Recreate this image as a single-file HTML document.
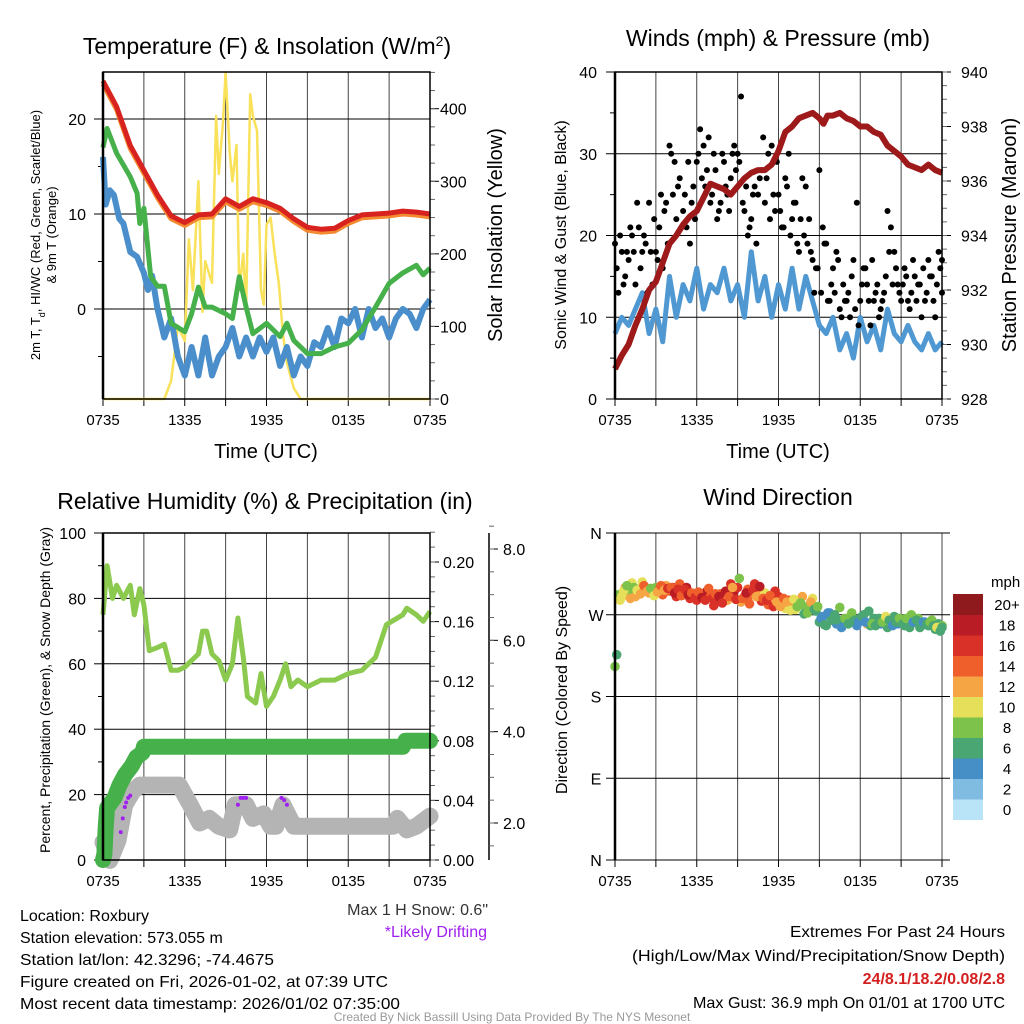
<!DOCTYPE html>
<html><head><meta charset="utf-8">
<style>
html,body{margin:0;padding:0;background:#fff;}
svg{display:block;font-family:"Liberation Sans",sans-serif;}
.n{font-family:"Liberation Sans Narrow","Liberation Sans",sans-serif;}
</style></head>
<body>
<svg id="fig" width="1024" height="1024" viewBox="0 0 1024 1024" xmlns="http://www.w3.org/2000/svg">
<rect width="1024" height="1024" fill="#fff"/>
<g id="layer"></g>
<text x="267" y="54" font-size="23" text-anchor="middle">Temperature (F) &amp; Insolation (W/m<tspan baseline-shift="super" font-size="14">2</tspan>)</text>
<text x="778" y="46" font-size="23" text-anchor="middle">Winds (mph) &amp; Pressure (mb)</text>
<text x="265" y="509" font-size="23" text-anchor="middle">Relative Humidity (%) &amp; Precipitation (in)</text>
<text x="778" y="505" font-size="23" text-anchor="middle">Wind Direction</text>

<text x="266" y="458" font-size="20" text-anchor="middle">Time (UTC)</text>
<text x="778" y="458" font-size="20" text-anchor="middle">Time (UTC)</text>

<text transform="translate(40,235) rotate(-90)" font-size="13" text-anchor="middle">2m T, T<tspan baseline-shift="sub" font-size="9">d</tspan>, HI/WC (Red, Green, Scarlet/Blue)</text>
<text transform="translate(56,235) rotate(-90)" font-size="13" text-anchor="middle">&amp; 9m T (Orange)</text>
<text transform="translate(502,235) rotate(-90)" font-size="20" text-anchor="middle">Solar Insolation (Yellow)</text>
<text transform="translate(566,235) rotate(-90)" font-size="16" text-anchor="middle">Sonic Wind &amp; Gust (Blue, Black)</text>
<text transform="translate(1016,235) rotate(-90)" font-size="20" text-anchor="middle">Station Pressure (Maroon)</text>
<text transform="translate(50,690) rotate(-90)" font-size="14" text-anchor="middle">Percent, Precipitation (Green), &amp; Snow Depth (Gray)</text>
<text transform="translate(567,690) rotate(-90)" font-size="16" text-anchor="middle">Direction (Colored By Speed)</text>

<g class="n" font-size="16">
<text x="488" y="915" text-anchor="end" fill="#333">Max 1 H Snow: 0.6"</text>
<text x="487" y="937" text-anchor="end" fill="#a020f0">*Likely Drifting</text>
<text x="20" y="921">Location: Roxbury</text>
<text x="20" y="943">Station elevation: 573.055 m</text>
<text x="20" y="965" textLength="254" lengthAdjust="spacingAndGlyphs">Station lat/lon: 42.3296; -74.4675</text>
<text x="20" y="987" textLength="368" lengthAdjust="spacingAndGlyphs">Figure created on Fri, 2026-01-02, at 07:39 UTC</text>
<text x="20" y="1009" textLength="380" lengthAdjust="spacingAndGlyphs">Most recent data timestamp: 2026/01/02 07:35:00</text>
<text x="1005" y="937" text-anchor="end" textLength="215" lengthAdjust="spacingAndGlyphs">Extremes For Past 24 Hours</text>
<text x="1005" y="961" text-anchor="end" textLength="373" lengthAdjust="spacingAndGlyphs">(High/Low/Max Wind/Precipitation/Snow Depth)</text>
<text x="1005" y="984" text-anchor="end" fill="#d42020" font-weight="bold">24/8.1/18.2/0.08/2.8</text>
<text x="1005" y="1008" text-anchor="end" textLength="312" lengthAdjust="spacingAndGlyphs">Max Gust: 36.9 mph On 01/01 at 1700 UTC</text>
<text x="512" y="1021" text-anchor="middle" font-size="12" fill="#999">Created By Nick Bassill Using Data Provided By The NYS Mesonet</text>
</g>
</svg>
<script>
// ---------- data ----------
const xTickLabels = ["0735","1335","1935","0135","0735"];
const tempLeftTicks = [0,10,20];
const insolTicks = [0,100,200,300,400];
const windTicks = [0,10,20,30,40];
const presTicks = [928,930,932,934,936,938,940];
const rhTicks = [0,20,40,60,80,100];
const precipTicks = [0.00,0.04,0.08,0.12,0.16,0.20];
const snowTicks = [2.0,4.0,6.0,8.0];
const dirLabels = ["N","E","S","W","N"];
const dirTickVals = [0,90,180,270,360];
const speedLegendLabels = ["0","2","4","6","8","10","12","14","16","18","20+"];
const speedColors = ["#b9e3f7","#80bbe2","#468ec6","#4aa672","#7cc24b","#e6df5a","#f6a545","#ef5f2c","#d93128","#b91c24","#8f1a1d"];

const tempT = [0,1,2,3,4,5,6,7,8,9,10,11,12,13,14,15,16,17,18,19,20,21,22,23,24];
const tempV = [24,21.3,17.2,14.6,12,9.8,9.1,9.9,10,11.6,10.8,11.6,11.2,10.6,9.5,8.6,8.4,8.5,9.3,9.9,10,10.1,10.3,10.2,10];
const dewT = [0,0.3,1,2,2.5,2.7,3,3.5,4,4.5,5,6,6.5,7,7.5,8,9,9.5,10,10.5,11,12,13,13.5,14,15,16,17,18,19,20,21,22,23,23.5,24];
const dewV = [17,19,16.4,13.9,12.2,9,10.6,3.4,2.4,2.4,-1.5,-2.4,-0.5,2.3,0.2,0.2,-0.5,-1,3.4,0.2,-2.6,-1.5,-2.9,-1.5,-3.3,-4.7,-4.7,-4,-3.6,-2.2,0.2,2.7,3.8,4.6,3.6,4.3];
const wcT = [0,0.2,0.5,0.8,1.2,1.5,2,2.5,3,3.3,3.6,4,4.5,5,5.5,6,6.5,7,7.5,8,8.5,9,9.5,10,10.5,11,11.5,12,12.5,13,13.5,14,14.5,15,15.5,16,16.5,17,17.5,18,18.5,19,19.5,20,20.5,21,21.5,22,22.5,23,23.5,24];
const wcV = [16,11,12.5,12,9.5,9,6,5.5,3.8,2,3.5,0,-3,-1,-5,-7,-4,-7,-3,-7,-5,-4,-2,-5,-3,-5,-3,-4.5,-3,-6,-4,-7,-5,-6,-3.5,-4,-2,-4,-1,-1.5,0,-3,0,-2,-1,-3,-1,0,-0.5,-2,0,1];
const solT = [0,4.5,5,5.5,6,6.3,6.6,7,7.3,7.5,8,8.3,8.5,8.8,9,9.3,9.5,9.8,10,10.3,10.5,10.8,11,11.3,11.6,11.8,12,12.3,12.6,12.9,13.2,13.5,14,14.5,24];
const solV = [0,0,25,100,80,220,150,300,120,190,160,390,310,380,450,340,300,350,150,200,120,420,390,370,150,130,240,250,200,160,90,50,15,0,0];
const presT = [0,0.5,1,1.5,2,2.5,3,3.5,4,4.5,5,5.5,6,6.5,7,7.5,8,8.5,9,9.5,10,10.5,11,11.5,12,12.5,13,13.5,14,14.5,15,15.3,15.6,16,16.5,17,17.5,18,18.5,19,19.5,20,20.5,21,21.5,22,22.5,23,23.5,24];
const presV = [929.1,929.6,930.0,930.7,931.3,932.0,932.3,933.0,933.7,934.0,934.4,934.7,934.9,935.4,935.9,935.8,935.7,935.5,935.8,936.1,936.3,936.4,936.4,936.6,937.1,937.8,938.0,938.3,938.4,938.5,938.3,938.1,938.4,938.4,938.5,938.3,938.2,938.0,938.0,937.8,937.7,937.3,937.1,936.9,936.6,936.5,936.4,936.6,936.4,936.3];
const windV = [8,10,9,11,13,8,11,7,15,10,14,12,16,11,14,13,16,12,14,10,18,12,15,10,14,11,16,11,15,12,9,8,10,6,8,5,10,7,9,6,11,8,7,9,7,6,8,6,7];
const gustV = [19,13,18,15,17,20,14,21,18,19,24,14,18,21,16,24,31,25,22,27,23,21,19,26,29,33,31,28,24,30,22,24,29,25,27,31,30,37,23,20,22,26,25,28,24,30,31,23,25,21,27,30,22,24,18,27,26,22,17,16,28,21,19,12,16,18,11,14,12,10,17,24,12,16,14,9,12,14,11,13,23,21,18,14,12,16,12,13,15,14,10,12,17,15,10,18,13];
const gustV2 = [16,20,14,18,21,18,24,16,20,13,18,22,17,25,23,19,30,29,26,21,25,29,24,22,30,27,26,32,25,28,23,30,26,23,30,28,29,24,26,21,25,19,27,32,27,22,25,29,23,21,26,20,24,19,22,20,19,18,13,16,13,19,12,14,13,17,10,12,13,15,11,9,14,16,12,17,13,10,12,15,18,14,16,13,14,15,11,17,12,14,16,13,15,12,14,16,17];
const rhT = [0,0.3,0.7,1,1.5,2,2.3,2.7,3,3.4,4,4.5,5,5.5,6,6.5,7,7.3,7.6,8,8.5,9,9.5,9.9,10.3,10.6,11.2,11.6,12,12.5,13,13.4,13.8,14.3,15,16,17,18,19,20,20.8,22,22.3,23,23.5,24];
const rhV = [75,90,80,84,80,84,75,83,78,64,65,66,58,58,59,61,63,70,70,63,61,55,60,74,62,50,48,57,47,50,55,60,53,55,53,55,55,57,58,62,72,75,77,75,73,76];
const precipT = [0,0.1,0.2,0.3,0.86,1.2,1.6,2.1,2.45,2.9,3.0,22,22.2,24];
const precipV = [0,0.004,0.022,0.035,0.042,0.05,0.057,0.063,0.069,0.072,0.076,0.076,0.08,0.08];
const snowT = [0,0.5,1.1,1.6,2.2,2.7,5.6,6.4,7.1,7.8,8.5,9.3,9.7,10.5,11,11.8,12.3,12.7,13.2,14,21.3,21.6,22.3,23,24];
const snowV = [1.58,1.18,1.62,2.4,2.7,2.83,2.83,2.4,2.0,2.1,1.93,1.85,2.4,2.4,2.1,2.2,1.93,1.93,2.4,1.93,1.93,2.1,1.85,1.93,2.15];
const driftT = [1.3,1.45,1.6,1.7,1.85,2.0,9.9,10.1,10.3,10.5,13.1,13.3,13.5];
const driftV = [1.8,2.1,2.35,2.45,2.55,2.6,2.4,2.55,2.55,2.55,2.55,2.5,2.4];
const dirV = [213,292,290,300, 296,305,290,298, 306,300,294,296, 300,298,292,302, 296,300,290,304, 295,300,288,292, 286,292,290,296, 290,280,285,293, 292,286,304,296, 300,284,290,298, 292,304,298,285, 294,281,289,296, 290,283,277,286, 281,276,284,290, 278,280,288,274, 262,268,258,272, 266,260,278,264, 262,268,266,258, 264,270,260,258, 266,262,260,264, 256,262,268,260, 264,258,262,270, 262,266,258,262, 258,264,254,260, 258];
const speedV = [8,9,10,12, 9,11,13,12, 11,12,13,10, 9,14,15,13, 15,17,16,14, 15,18,16,13, 17,16,15,18, 14,16,17,15, 17,13,16,18, 16,12,17,15, 14,17,12,16, 10,15,13,17, 16,14,11,15, 12,10,8,13, 9,8,11,7, 7,5,6,4, 6,5,8,7, 6,10,7,5, 8,6,12,7, 6,7,5,8, 6,9,7,5, 6,7,5,8, 6,9,7,5, 6,8,7,6, 9];
const dirV2 = [226,286,296,302, 288,300,297,293, 302,296,299,291, 295,302,297,299, 300,294,298,291, 298,292,294,289, 295,289,286,299, 288,293,290,283, 296,290,300,287, 310,288,294,282, 297,290,301,288, 286,291,279,284, 279,288,284,275, 287,279,283,271, 272,284,276,279, 266,259,272,264, 270,264,256,266, 260,272,264,262, 268,262,274,260, 258,266,262,268, 264,258,262,266, 260,266,256,262, 264,256,262,260, 262,258,256,252, 256];
const speedV2 = [7,10,11,9, 12,8,10,13, 14,12,9,11, 13,15,12,16, 14,18,17,15, 16,19,14,17, 15,18,16,14, 17,15,19,16, 18,15,13,17, 8,15,18,14, 16,12,18,15, 17,14,16,12, 13,15,12,10, 11,8,9,7, 8,12,7,9, 5,6,4,7, 7,6,5,8, 6,9,7,5, 7,5,6,8, 7,6,8,11, 7,5,6,8, 6,8,7,5, 7,6,5,7, 8,6,10,7, 6];

// ---------- helpers ----------
const NS = "http://www.w3.org/2000/svg";
const layer = document.getElementById("layer");
function mk(tag, attrs, parent){
  const e = document.createElementNS(NS, tag);
  for (const k in attrs) e.setAttribute(k, attrs[k]);
  (parent||layer).appendChild(e);
  return e;
}
function lin(d0,d1,r0,r1){ return v => r0 + (v-d0)*(r1-r0)/(d1-d0); }
function pathD(ts, vs, sx, sy){ return ts.map((t,i)=>(i?"L":"M")+sx(t).toFixed(1)+","+sy(vs[i]).toFixed(1)).join(""); }
function idxT(arr, off){ return arr.map((_,i)=> Math.min(24, i*24/(arr.length-1) + (off||0))); }

function frame(x0,x1,y0,y1,name){
  const sx = lin(0,24,x0,x1);
  for (let h=0; h<=24; h+=3){
    const g = mk("line",{x1:sx(h),x2:sx(h),y1:y0,y2:y1,stroke:"#444","stroke-width":1});
    
    
    const tk = mk("line",{x1:sx(h),x2:sx(h),y1:y1,y2:y1+7,stroke:"#000","stroke-width":1});
    
    
  }
  xTickLabels.forEach((lab,i)=>{
    const t = mk("text",{x:sx(i*6),y:y1+26,"font-size":15,"text-anchor":"middle","class":"n"});
    t.textContent = lab;
    
    
  });
  return sx;
}
function hgrid(vals, sy, x0, x1, name, labelFmt, lx, minor){
  vals.forEach(v=>{
    const g = mk("line",{x1:x0,x2:x1,y1:sy(v),y2:sy(v),stroke:"#000","stroke-width":1});
    
    
    mk("line",{x1:x0-9,x2:x0,y1:sy(v),y2:sy(v),stroke:"#000"});
    const t = mk("text",{x:lx,y:sy(v)+6,"font-size":16,"text-anchor":"end"});
    t.textContent = labelFmt(v);
    
    
  });
  (minor||[]).forEach(v=> mk("line",{x1:x0-5,x2:x0,y1:sy(v),y2:sy(v),stroke:"#000"}));
}
function rightAxis(vals, sy, x, name, fmt, minorStep, lo, hi, lx, len){
  vals.forEach(v=>{
    mk("line",{x1:x,x2:x+(len||9),y1:sy(v),y2:sy(v),stroke:"#000"});
    const t = mk("text",{x:lx,y:sy(v)+6,"font-size":16});
    t.textContent = fmt(v);
    
    
  });
  for (let v=lo; v<=hi+1e-9; v+=minorStep) mk("line",{x1:x,x2:x+5,y1:sy(v),y2:sy(v),stroke:"#666"});
}
function border(x0,x1,y0,y1,name){
  const b = mk("rect",{x:x0,y:y0,width:x1-x0,height:y1-y0,fill:"none",stroke:"#000","stroke-width":1.5});
  
  
  mk("line",{x1:x0,x2:x0,y1:y0,y2:y1,stroke:"#000","stroke-width":2.5});
}

// ---------- panel 1: temperature ----------
{
  const x0=103,x1=430,y0=72,y1=399;
  const sx = frame(x0,x1,y0,y1,"temp");
  const sy = lin(0,10,309,214);
  const sr = lin(0,400,399,108.7);
  hgrid(tempLeftTicks, sy, x0, x1, "temp", v=>v, 86, [-5,5,15]);
  rightAxis(insolTicks, sr, x1, "insolation", v=>v, 25, 0, 450, 440);
  const sol = mk("path",{d:pathD(solT,solV,sx,sr),fill:"none",stroke:"#f9e15a","stroke-width":2.5,"stroke-linejoin":"round"});
  
  
  const wc = mk("path",{d:pathD(wcT,wcV,sx,sy),fill:"none",stroke:"#4a8fcb","stroke-width":6,"stroke-linejoin":"round"});
  
  
  const dw = mk("path",{d:pathD(dewT,dewV,sx,sy),fill:"none",stroke:"#46b04a","stroke-width":5,"stroke-linejoin":"round"});
  
  
  const t9 = mk("path",{d:pathD(tempT,tempV.map(v=>v-0.3),sx,sy),fill:"none",stroke:"#f48a30","stroke-width":5,"stroke-linejoin":"round"});
  
  
  const tl = mk("path",{d:pathD(tempT,tempV,sx,sy),fill:"none",stroke:"#d8221f","stroke-width":5,"stroke-linejoin":"round"});
  
  
  border(x0,x1,y0,y1,"temp");
}

// ---------- panel 2: winds ----------
{
  const x0=615,x1=942,y0=72,y1=399;
  const sx = frame(x0,x1,y0,y1,"winds");
  const sy = lin(0,40,399,72);
  const sp = lin(928,940,399,72);
  hgrid(windTicks, sy, x0, x1, "winds", v=>v, 597, [5,15,25,35]);
  rightAxis(presTicks, sp, x1, "pressure", v=>v, 0.5, 928, 940, 961);
  const w = mk("path",{d:pathD(idxT(windV),windV,sx,sy),fill:"none",stroke:"#4f98d2","stroke-width":5,"stroke-linejoin":"round"});
  
  
  const gt = idxT(gustV);
  gustV.forEach((v,i)=>{
    const c = mk("circle",{cx:sx(gt[i]),cy:sy(v),r:3,fill:"#000"});
    
    
  });
  const gt2 = idxT(gustV2, 0.125);
  gustV2.forEach((v,i)=>{
    const c = mk("circle",{cx:sx(gt2[i]),cy:sy(v),r:3,fill:"#000"});
    
    
  });
  const p = mk("path",{d:pathD(presT,presV,sx,sp),fill:"none",stroke:"#9e1a1a","stroke-width":6,"stroke-linejoin":"round"});
  
  
  border(x0,x1,y0,y1,"winds");
}

// ---------- panel 3: RH & precip ----------
{
  const x0=103,x1=430,y0=533,y1=860;
  const sx = frame(x0,x1,y0,y1,"rh");
  const sy = lin(0,100,860,533);
  const sp = lin(0,0.2,860,562);
  const ss = lin(2,8,823,549);
  hgrid(rhTicks, sy, x0, x1, "rh", v=>v, 86, [10,30,50,70,90]);
  rightAxis(precipTicks, sp, x1, "precip", v=>v.toFixed(2), 0.01, 0, 0.22, 443);
  const ax = mk("line",{x1:489,x2:489,y1:533,y2:860,stroke:"#000","stroke-width":1.5});
  
  
  snowTicks.forEach(v=>{
    mk("line",{x1:489,x2:498,y1:ss(v),y2:ss(v),stroke:"#000"});
    const t = mk("text",{x:503,y:ss(v)+6,"font-size":16});
    t.textContent = v.toFixed(1);
    
    
  });
  for (let v=1.5; v<=8.5; v+=0.5) mk("line",{x1:489,x2:494,y1:ss(v),y2:ss(v),stroke:"#666"});
  const rh = mk("path",{d:pathD(rhT,rhV,sx,sy),fill:"none",stroke:"#8bc94f","stroke-width":5,"stroke-linejoin":"round"});
  
  
  const sn = mk("path",{d:pathD(snowT,snowV,sx,ss),fill:"none",stroke:"#b4b4b4","stroke-width":17,"stroke-linejoin":"round","stroke-linecap":"round"});
  
  
  const pr = mk("path",{d:pathD(precipT,precipV,sx,sp),fill:"none",stroke:"#46b04a","stroke-width":16,"stroke-linejoin":"round","stroke-linecap":"round"});
  
  
  driftT.forEach((t,i)=>{
    const c = mk("circle",{cx:sx(t),cy:ss(driftV[i]),r:2,fill:"#a020f0"});
    
    
  });
  border(x0,x1,y0,y1,"rh");
}

// ---------- panel 4: direction ----------
{
  const x0=615,x1=942,y0=533,y1=860;
  const sx = frame(x0,x1,y0,y1,"dir");
  const sy = lin(0,360,860,533);
  dirTickVals.forEach((v,i)=>{
    const g = mk("line",{x1:x0-9,x2:x1+8,y1:sy(v),y2:sy(v),stroke:"#000"});
    
    
    const t = mk("text",{x:596,y:sy(v)+6,"font-size":16,"text-anchor":"middle"});
    t.textContent = dirLabels[i];
    
    
  });
  const dt = idxT(dirV);
  dirV.forEach((v,i)=>{
    const k = Math.min(10, Math.floor(speedV[i]/2));
    const c = mk("circle",{cx:sx(dt[i]),cy:sy(v),r:4.8,fill:speedColors[k]});
    
    
  });
  const dt2 = idxT(dirV2, 0.125);
  dirV2.forEach((v,i)=>{
    const k = Math.min(10, Math.floor(speedV2[i]/2));
    const c = mk("circle",{cx:sx(dt2[i]),cy:sy(v),r:4.8,fill:speedColors[k]});
    
    
  });
  mk("line",{x1:x0,x2:x0,y1:y0,y2:y1,stroke:"#000","stroke-width":2.5});
  // colorbar
  const lt = mk("text",{x:991,y:587,"font-size":15});
  lt.textContent = "mph";
  
  
  const bh = 20.5, top = 594;
  speedColors.forEach((c,i)=>{
    const y = top + (10-i)*bh;
    const r = mk("rect",{x:953,y:y,width:30,height:bh+0.5,fill:c});
    
    
    const t = mk("text",{x:1007,y:y+16,"font-size":15,"text-anchor":"middle"});
    t.textContent = speedLegendLabels[i];
    
    
  });
}
</script>
</body></html>
